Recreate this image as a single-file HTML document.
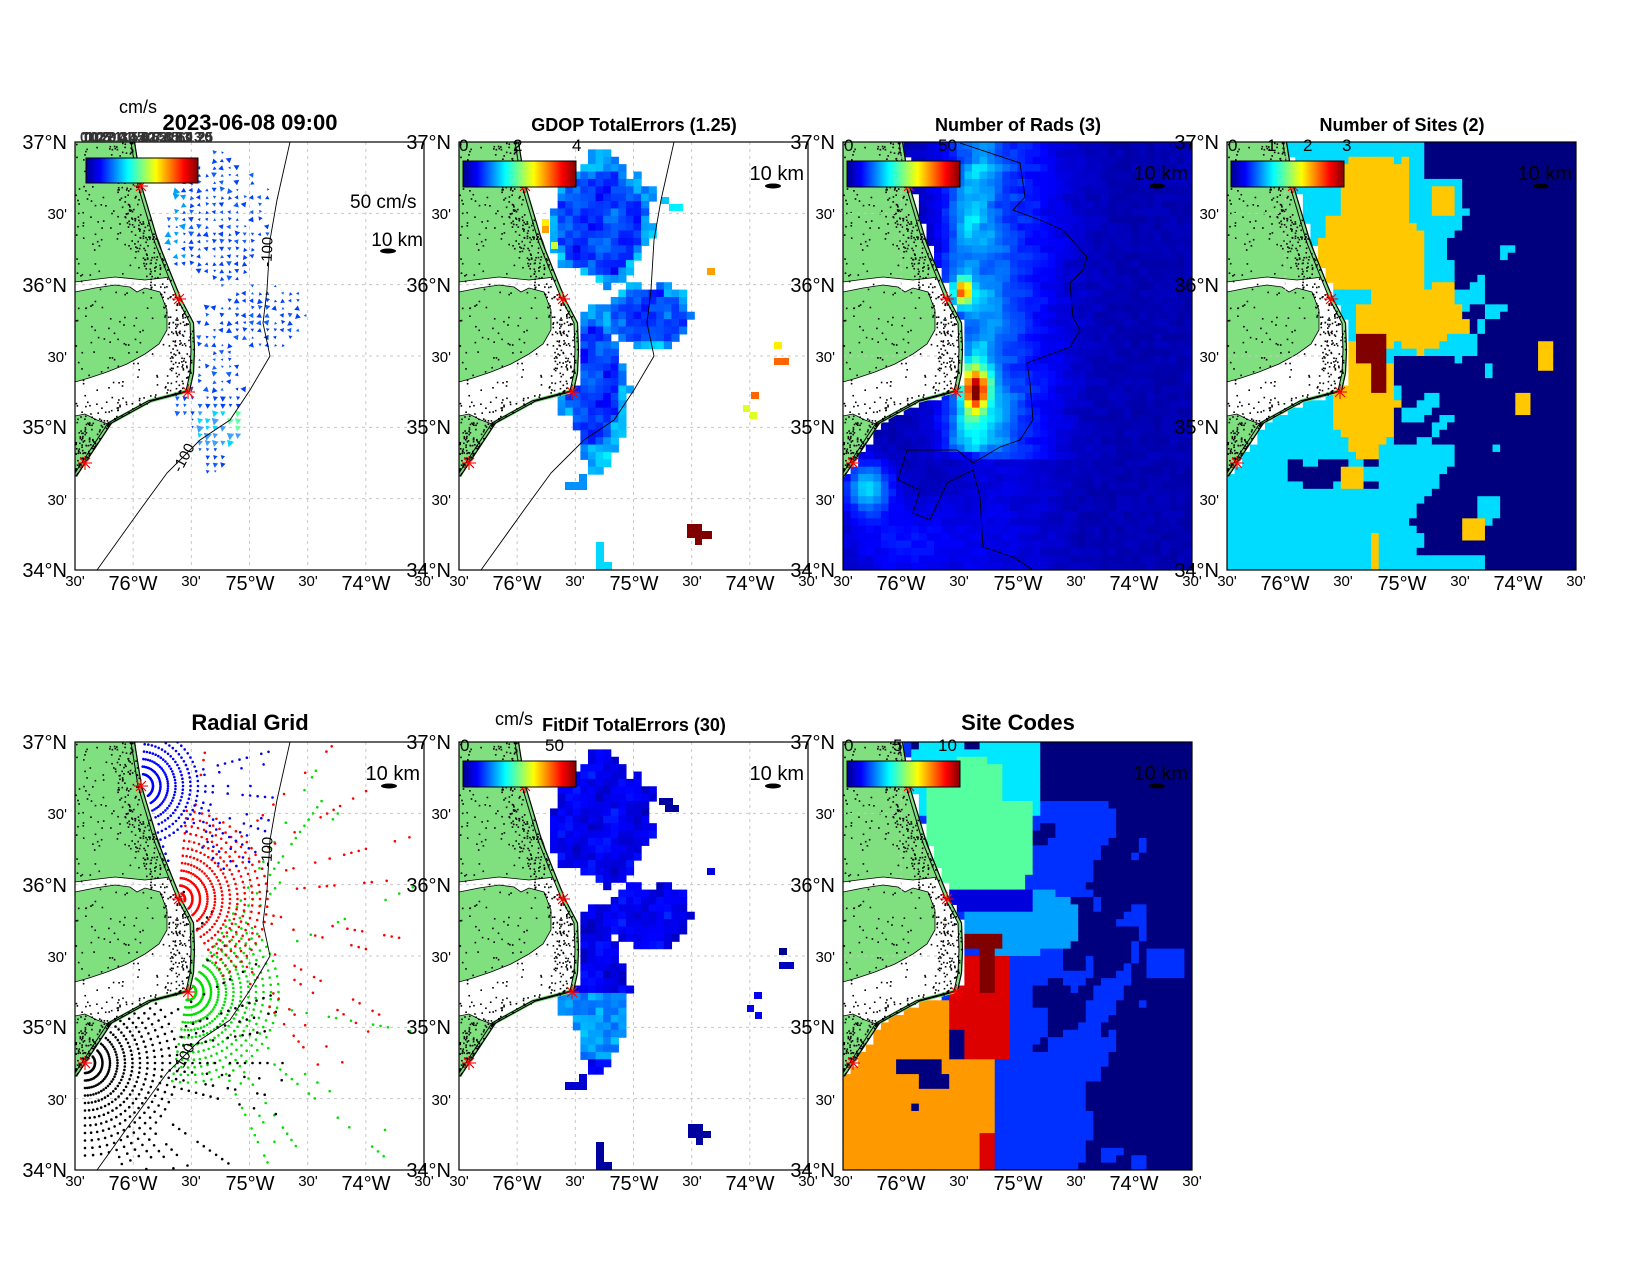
<!DOCTYPE html>
<html><head><meta charset="utf-8">
<style>
html,body{margin:0;padding:0;background:#fff;}
svg{display:block;font-family:"Liberation Sans",Arial,sans-serif;}
.t{font-weight:bold;text-anchor:middle;}
.yl{font-size:20px;text-anchor:end;}
.ym{font-size:15px;text-anchor:end;}
.xl{font-size:20px;text-anchor:middle;}
.xm{font-size:15px;text-anchor:middle;}
.cb{font-size:17px;}
</style></head>
<body>
<svg id="s" width="1650" height="1275" viewBox="0 0 1650 1275" xmlns="http://www.w3.org/2000/svg">
<defs>
<linearGradient id="jet" x1="0" x2="1" y1="0" y2="0">
<stop offset="0" stop-color="#00008f"/><stop offset="0.125" stop-color="#0000ff"/><stop offset="0.375" stop-color="#00ffff"/><stop offset="0.625" stop-color="#ffff00"/><stop offset="0.875" stop-color="#ff0000"/><stop offset="1" stop-color="#800000"/>
</linearGradient>
</defs>
<g id="panels"></g>

<text class="t" x="250" y="130" font-size="22">2023-06-08 09:00</text>
<text class="t" x="634" y="131" font-size="18">GDOP TotalErrors (1.25)</text>
<text class="t" x="1018" y="131" font-size="18">Number of Rads (3)</text>
<text class="t" x="1402" y="131" font-size="18">Number of Sites (2)</text>
<text class="t" x="250" y="730" font-size="22">Radial Grid</text>
<text class="t" x="634" y="731" font-size="18">FitDif TotalErrors (30)</text>
<text class="t" x="1018" y="730" font-size="22">Site Codes</text>

<text x="119" y="113" font-size="18">cm/s</text>
<g fill="#333" font-size="15" font-weight="bold">
<text x="80" y="142" textLength="133" lengthAdjust="spacingAndGlyphs">0 0.5 1 1.5 2 2.5 3 3.5</text>
<text x="82" y="142" textLength="130" lengthAdjust="spacingAndGlyphs">10 20 30 40 50 60 70</text>
<text x="84" y="142" textLength="129" lengthAdjust="spacingAndGlyphs">0 0.2 0.4 0.6 0.8 1.25</text>
<text x="86" y="142" textLength="127" lengthAdjust="spacingAndGlyphs">1 2 3 4 5 6 7 8 9 1.25</text>
</g>
<text x="350" y="208" font-size="19">50 cm/s</text>
<text x="423" y="246" font-size="19" text-anchor="end">10 km</text>

<g transform="translate(75,142)">
<text class="yl" x="-8" y="7">37°N</text><text class="ym" x="-8" y="77">30'</text><text class="yl" x="-8" y="150">36°N</text><text class="ym" x="-8" y="220">30'</text><text class="yl" x="-8" y="292">35°N</text><text class="ym" x="-8" y="363">30'</text><text class="yl" x="-8" y="435">34°N</text>
<text class="xm" x="0" y="444">30'</text><text class="xl" x="58" y="448">76°W</text><text class="xm" x="116" y="444">30'</text><text class="xl" x="175" y="448">75°W</text><text class="xm" x="233" y="444">30'</text><text class="xl" x="291" y="448">74°W</text><text class="xm" x="349" y="444">30'</text>
</g>
<g transform="translate(459,142)">
<text class="yl" x="-8" y="7">37°N</text><text class="ym" x="-8" y="77">30'</text><text class="yl" x="-8" y="150">36°N</text><text class="ym" x="-8" y="220">30'</text><text class="yl" x="-8" y="292">35°N</text><text class="ym" x="-8" y="363">30'</text><text class="yl" x="-8" y="435">34°N</text>
<text class="xm" x="0" y="444">30'</text><text class="xl" x="58" y="448">76°W</text><text class="xm" x="116" y="444">30'</text><text class="xl" x="175" y="448">75°W</text><text class="xm" x="233" y="444">30'</text><text class="xl" x="291" y="448">74°W</text><text class="xm" x="349" y="444">30'</text>
<text class="cb" x="0" y="9">0</text><text class="cb" x="54" y="9">2</text><text class="cb" x="113" y="9">4</text>
<text x="345" y="38" font-size="20" text-anchor="end">10 km</text>
</g>
<g transform="translate(843,142)">
<text class="yl" x="-8" y="7">37°N</text><text class="ym" x="-8" y="77">30'</text><text class="yl" x="-8" y="150">36°N</text><text class="ym" x="-8" y="220">30'</text><text class="yl" x="-8" y="292">35°N</text><text class="ym" x="-8" y="363">30'</text><text class="yl" x="-8" y="435">34°N</text>
<text class="xm" x="0" y="444">30'</text><text class="xl" x="58" y="448">76°W</text><text class="xm" x="116" y="444">30'</text><text class="xl" x="175" y="448">75°W</text><text class="xm" x="233" y="444">30'</text><text class="xl" x="291" y="448">74°W</text><text class="xm" x="349" y="444">30'</text>
<text class="cb" x="1" y="9">0</text><text class="cb" x="95" y="9">50</text>
<text x="345" y="38" font-size="20" text-anchor="end">10 km</text>
</g>
<g transform="translate(1227,142)">
<text class="yl" x="-8" y="7">37°N</text><text class="ym" x="-8" y="77">30'</text><text class="yl" x="-8" y="150">36°N</text><text class="ym" x="-8" y="220">30'</text><text class="yl" x="-8" y="292">35°N</text><text class="ym" x="-8" y="363">30'</text><text class="yl" x="-8" y="435">34°N</text>
<text class="xm" x="0" y="444">30'</text><text class="xl" x="58" y="448">76°W</text><text class="xm" x="116" y="444">30'</text><text class="xl" x="175" y="448">75°W</text><text class="xm" x="233" y="444">30'</text><text class="xl" x="291" y="448">74°W</text><text class="xm" x="349" y="444">30'</text>
<text class="cb" x="1" y="9">0</text><text class="cb" x="40" y="9">1</text><text class="cb" x="76" y="9">2</text><text class="cb" x="115" y="9">3</text>
<text x="345" y="38" font-size="20" text-anchor="end">10 km</text>
</g>
<g transform="translate(75,742)">
<text class="yl" x="-8" y="7">37°N</text><text class="ym" x="-8" y="77">30'</text><text class="yl" x="-8" y="150">36°N</text><text class="ym" x="-8" y="220">30'</text><text class="yl" x="-8" y="292">35°N</text><text class="ym" x="-8" y="363">30'</text><text class="yl" x="-8" y="435">34°N</text>
<text class="xm" x="0" y="444">30'</text><text class="xl" x="58" y="448">76°W</text><text class="xm" x="116" y="444">30'</text><text class="xl" x="175" y="448">75°W</text><text class="xm" x="233" y="444">30'</text><text class="xl" x="291" y="448">74°W</text><text class="xm" x="349" y="444">30'</text>
<text x="345" y="38" font-size="20" text-anchor="end">10 km</text>
</g>
<g transform="translate(459,742)">
<text class="yl" x="-8" y="7">37°N</text><text class="ym" x="-8" y="77">30'</text><text class="yl" x="-8" y="150">36°N</text><text class="ym" x="-8" y="220">30'</text><text class="yl" x="-8" y="292">35°N</text><text class="ym" x="-8" y="363">30'</text><text class="yl" x="-8" y="435">34°N</text>
<text class="xm" x="0" y="444">30'</text><text class="xl" x="58" y="448">76°W</text><text class="xm" x="116" y="444">30'</text><text class="xl" x="175" y="448">75°W</text><text class="xm" x="233" y="444">30'</text><text class="xl" x="291" y="448">74°W</text><text class="xm" x="349" y="444">30'</text>
<text class="cb" x="1" y="9">0</text><text class="cb" x="86" y="9">50</text>
<text x="36" y="-17" font-size="18">cm/s</text>
<text x="345" y="38" font-size="20" text-anchor="end">10 km</text>
</g>
<g transform="translate(843,742)">
<text class="yl" x="-8" y="7">37°N</text><text class="ym" x="-8" y="77">30'</text><text class="yl" x="-8" y="150">36°N</text><text class="ym" x="-8" y="220">30'</text><text class="yl" x="-8" y="292">35°N</text><text class="ym" x="-8" y="363">30'</text><text class="yl" x="-8" y="435">34°N</text>
<text class="xm" x="0" y="444">30'</text><text class="xl" x="58" y="448">76°W</text><text class="xm" x="116" y="444">30'</text><text class="xl" x="175" y="448">75°W</text><text class="xm" x="233" y="444">30'</text><text class="xl" x="291" y="448">74°W</text><text class="xm" x="349" y="444">30'</text>
<text class="cb" x="1" y="9">0</text><text class="cb" x="50" y="9">5</text><text class="cb" x="95" y="9">10</text>
<text x="345" y="38" font-size="20" text-anchor="end">10 km</text>
</g>
<g font-size="15">
<text transform="translate(272,252) rotate(-88)" text-anchor="middle">-100</text>
<text transform="translate(188,460) rotate(-62)" text-anchor="middle">-100</text>
<text transform="translate(272,852) rotate(-88)" text-anchor="middle">-100</text>
<text transform="translate(188,1060) rotate(-62)" text-anchor="middle">-100</text>
</g>
</svg>
<script>
(function(){
var W=349,H=428,cw=W/46,ch=H/58;
var P=[[75,142],[459,142],[843,142],[1227,142],[75,742],[459,742],[843,742]];
var coast=[[58,0],[65,44],[82,101],[98,141],[105,158],[117,181],[118,208],[117,231],[113,249],[75,259],[35,281],[0,334]];
function xc(y){if(y>=334)return -10;for(var i=0;i<coast.length-1;i++){var a=coast[i],b=coast[i+1];if(y>=a[1]&&y<=b[1]){var t=(y-a[1])/(b[1]-a[1]);return a[0]+t*(b[0]-a[0]);}}return -10;}
function ocean(x,y){return x>xc(y)+4;}
function hash(i,j){var s=Math.sin(i*127.1+j*311.7)*43758.5453;return s-Math.floor(s);}
function sn(x,y){return 0.5*Math.sin(x*0.045+y*0.02+1)+0.35*Math.sin(y*0.06-x*0.03+2)+0.3*Math.sin(x*0.11+y*0.09);}
function cl(v){return Math.max(0,Math.min(1,v));}
function jet(v){v=cl(v);var r=cl(1.5-Math.abs(4*v-3)),g=cl(1.5-Math.abs(4*v-2)),b=cl(1.5-Math.abs(4*v-1));return 'rgb('+Math.round(r*255)+','+Math.round(g*255)+','+Math.round(b*255)+')';}
function G(x,y,cx,cy,sx,sy){var dx=(x-cx)/sx,dy=(y-cy)/sy;return Math.exp(-(dx*dx+dy*dy));}
function ell(x,y,cx,cy,rx,ry){var dx=(x-cx)/rx,dy=(y-cy)/ry;return Math.sqrt(dx*dx+dy*dy);}
function cov(x,y){if(!ocean(x,y))return false;var d=Math.min(ell(x,y,141,80,50,62),ell(x,y,188,175,44,32),ell(x,y,135,245,31,72));return d<1+0.22*sn(x*2,y*2);}
var LN=[[0,0],[60,0],[63,40],[72,70],[84,100],[92,125],[96,135],[70,138],[40,135],[15,138],[0,140]];
var LM=[[0,150],[20,146],[40,143],[55,145],[62,150],[70,146],[85,150],[92,168],[92,188],[84,202],[70,212],[52,222],[32,230],[14,236],[0,240]];
var LS=[[0,274],[10,272],[22,278],[33,282],[0,333]];
function pts(a){return a.map(function(p){return p[0].toFixed(1)+','+p[1].toFixed(1);}).join(' ');}
function cells(fn){var s='';for(var i=0;i<46;i++)for(var j=0;j<58;j++){var x=(i+0.5)*cw,y=(j+0.5)*ch;var c=fn(x,y,i,j);if(c)s+='<rect x="'+(i*cw).toFixed(2)+'" y="'+(j*ch).toFixed(2)+'" width="'+(cw+0.6).toFixed(2)+'" height="'+(ch+0.6).toFixed(2)+'" fill="'+c+'"/>';}return s;}
function grid(){var s='<g stroke="#c8c8c8" stroke-width="1" stroke-dasharray="3,4">';for(var k=1;k<6;k++){s+='<line x1="'+(k*W/6)+'" y1="0" x2="'+(k*W/6)+'" y2="'+H+'"/>';s+='<line x1="0" y1="'+(k*H/6)+'" x2="'+W+'" y2="'+(k*H/6)+'"/>';}return s+'</g>';}
var rnd=(function(){var a=12345;return function(){a|=0;a=a+0x6D2B79F5|0;var t=Math.imul(a^a>>>15,1|a);t=t+Math.imul(t^t>>>7,61|t)^t;return((t^t>>>14)>>>0)/4294967296;};})();
var landDots=(function(){var s='';for(var n=0;n<700;n++){var y=rnd()*340,xmax=xc(y);if(xmax<0)continue;var x;if(rnd()<0.6){x=xmax-rnd()*25;}else{x=rnd()*xmax;}if(x<0)continue;s+='<rect x="'+x.toFixed(1)+'" y="'+y.toFixed(1)+'" width="1.6" height="1.6"/>';}return s;})();
function land(){var s='<g fill="#80e080" stroke="#000" stroke-width="0.8">';s+='<polygon points="'+pts(LN)+'"/><polygon points="'+pts(LM)+'"/><polygon points="'+pts(LS)+'"/></g>';
s+='<polyline points="'+pts(coast)+'" fill="none" stroke="#80e080" stroke-width="4"/>';
s+='<polyline points="'+pts(coast.map(function(p){return [p[0]-2,p[1]];}))+'" fill="none" stroke="#000" stroke-width="1"/>';
s+='<polyline points="'+pts(coast.map(function(p){return [p[0]+1.5,p[1]];}))+'" fill="none" stroke="#000" stroke-width="1.2"/>';
s+='<g fill="#000">'+landDots+'</g>';return s;}
var depth=[[215,0],[202,58],[195,98],[192,148],[188,181],[195,214],[175,248],[155,278],[125,298],[92,331],[65,368],[22,428]];
function contour(){return '<polyline points="'+pts(depth)+'" fill="none" stroke="#000" stroke-width="0.9"/>';}
function star(x,y){var s='<g stroke="#f00" stroke-width="1.1">';for(var k=0;k<4;k++){var a=k*Math.PI/4;s+='<line x1="'+(x-7*Math.cos(a))+'" y1="'+(y-7*Math.sin(a))+'" x2="'+(x+7*Math.cos(a))+'" y2="'+(y+7*Math.sin(a))+'"/>';}return s+'</g>';}
var S=[[66,44],[104,157],[113,250],[10,321]];
function stars(){return S.map(function(p){return star(p[0],p[1]);}).join('');}
function colorbar(x,y,w,h){return '<rect x="'+x+'" y="'+y+'" width="'+w+'" height="'+h+'" fill="url(#jet)" stroke="#000" stroke-width="1"/>';}
function scalebar(x,y){return '<ellipse cx="'+x+'" cy="'+y+'" rx="8" ry="2.5" fill="#000"/>';}

function p1(){var s='';for(var i=0;i<46;i++)for(var j=0;j<58;j++){var x=(i+0.5)*cw,y=(j+0.5)*ch;if(!cov(x,y))continue;if(hash(i,j)<0.15)continue;var sz=2.2+hash(j,i)*3.2;var col='#0040ff';if(hash(i+3,j)<0.3)col='#1060ff';if(x>118&&x<165&&y>262&&y<300){col=(hash(i,j+5)<0.5?'#00d8ff':'#40a0ff');sz+=2;}if(x>150&&x<165&&y>265&&y<285)col='#60ffa0';if(y<120&&x<115&&hash(i,j+1)<0.4){col='#00a0ff';sz+=1.5;}var a=Math.PI*(0.7+0.6*hash(i+7,j+2));if(y>250)a=Math.PI*0.5+0.3*hash(i,j);var c=Math.cos(a),d=Math.sin(a);var tx=x+c*sz,ty=y+d*sz;var px=-d*sz*0.55,py=c*sz*0.55;s+='<polygon points="'+tx.toFixed(1)+','+ty.toFixed(1)+' '+(x+px).toFixed(1)+','+(y+py).toFixed(1)+' '+(x-px).toFixed(1)+','+(y-py).toFixed(1)+'" fill="'+col+'"/>';}return s;}
function iso(list){var s='';list.forEach(function(r){s+='<rect x="'+r[0]+'" y="'+r[1]+'" width="'+r[2]+'" height="'+r[3]+'" fill="'+r[4]+'"/>';});return s;}
function p2(){return cells(function(x,y,i,j){if(!cov(x,y))return null;var v=0.16+0.06*sn(x*3,y*3)+0.05*hash(i,j);if(Math.min(ell(x,y,141,80,50,62),ell(x,y,188,175,44,32),ell(x,y,135,245,31,72))>0.85)v+=0.1;return jet(v);})+iso([[202,55,8,7,'#00c8ff'],[210,62,14,7,'#00f0ff'],[248,126,8,7,'#ffa000'],[315,200,8,7,'#ffee00'],[315,216,15,7,'#ff6600'],[292,250,8,7,'#ff6600'],[284,263,7,7,'#e0ff20'],[291,270,7,7,'#e0ff20'],[106,340,22,8,'#0090ff'],[120,332,8,8,'#0090ff'],[228,382,15,14,'#800000'],[243,389,10,8,'#800000'],[236,396,7,7,'#800000'],[137,400,8,28,'#00d8ff'],[145,420,8,8,'#00d8ff'],[83,77,7,7,'#ffee00'],[83,84,7,7,'#ffa000'],[92,100,7,7,'#d0ff30']]);}
function p3(){return cells(function(x,y,i,j){if(!ocean(x,y))return null;var v=0.035+0.03*hash(i,j);var mid=Math.exp(-Math.pow((x-160)/60,2))*(y<320?1:0.35);v+=0.12*mid*(0.8+0.4*hash(i+1,j));v+=0.2*Math.exp(-Math.pow((x-130)/28,2))*(y<310?1:0)*(0.75+0.35*sn(x*2,y*1.5))*(y<20?0.6:1);v+=0.55*G(x,y,120,150,9,13);v+=0.7*G(x,y,132,248,12,20);v+=0.1*G(x,y,150,270,25,30);v+=0.28*G(x,y,25,345,22,25);v+=0.09*G(x,y,60,400,60,40);return jet(v);})+'<polyline points="'+pts([[117,1],[177,21],[182,55],[170,68],[197,78],[220,88],[244,115],[240,128],[227,141],[230,175],[237,188],[227,205],[184,221],[187,241],[190,278],[177,298],[157,305],[130,321],[114,308],[64,308],[55,338],[77,348],[70,371],[87,378],[104,341],[130,328],[137,355],[140,405],[170,415],[190,428]])+'" fill="none" stroke="#000" stroke-width="0.9"/>';}
function p4(){var NAVY='#00007f',CY='#00dcff',YE='#ffc800',DR='#800000';return cells(function(x,y,i,j){if(!ocean(x,y))return null;
if((x>126&&x<163&&y>195&&y<218)||(x>141&&x<163&&y>218&&y<248))return DR;
if((x>111&&x<179&&y>15&&y<78&&ell(x,y,145,50,38,40)<1.05+0.2*sn(x*3,y*3))||(x>88&&x<194&&y>70&&y<148&&ell(x,y,140,108,58,42)<1.05+0.2*sn(x*3,y*2)))return YE;
if(ell(x,y,185,175,55,36)<1+0.18*sn(x*3,y*3)&&y>140)return YE;
if(ell(x,y,137,250,30,70)<1+0.15*sn(x*2,y*3)&&y>175&&y<318)return YE;
if((x>310&&x<330&&y>200&&y<232)||(x>285&&x<300&&y>248&&y<272)||(x>112&&x<133&&y>325&&y<348)||(x>233&&x<255&&y>378&&y<400)||(x>141&&x<155&&y>393)||(x>202&&x<225&&y>47&&y<72))return YE;
var bi=Math.floor(i/2),bj=Math.floor(j/2);
var s=(x-215)/70+0.6*sn(x*1.5,y*1.5)+0.35*(hash(bi,bj)-0.5);
if(y<40&&x>200)return NAVY;
if(x>150&&x<260&&y>215&&y<300)s+=0.8;
if(x>60&&x<150&&y>318&&y<345&&hash(bi,bj)<0.7)return NAVY;
if(x>150&&x<250&&y>335&&y<410)s+=0.7;
if(x>320)s+=0.6;
if(x<60&&y>300)s-=1;
return s>0.35?NAVY:CY;});}
function p5(){var s='';function site(sx,sy,col,r0,r1,a0,a1,keep,p,rad){for(var r=r0;r<=r1;r+=7.5){for(var a=a0;a<=a1;a+=5){var t=a*Math.PI/180;var x=sx+r*Math.cos(t),y=sy+r*Math.sin(t);if(x<0||x>W||y<0||y>H)continue;if(!ocean(x,y))continue;if(r>keep){var spoke=hash(Math.round(a),sx)<rad;if(!spoke||rnd()>p)continue;}s+='<circle cx="'+x.toFixed(1)+'" cy="'+y.toFixed(1)+'" r="1.3" fill="'+col+'"/>';}}}
site(113,250,'#00e000',8,260,-60,100,95,0.45,0.35);
site(10,321,'#000',10,200,-70,90,95,0.7,0.6);
site(104,157,'#ff0000',6,245,-85,60,95,0.45,0.3);
site(66,44,'#0000ff',12,135,-85,75,60,0.6,0.6);
return s;}
function p6(){return cells(function(x,y,i,j){if(!cov(x,y))return null;var v=0.09+0.04*sn(x*3,y*3)+0.04*hash(i,j);if(y>250&&y<315)v=0.22+0.1*hash(i,j);if(x<125&&y>205&&y<225)v=0.38;return jet(v);})+iso([[248,126,8,7,'#0000e0'],[320,206,8,7,'#00008f'],[320,220,15,7,'#0000c0'],[295,250,8,7,'#0000ee'],[288,263,7,7,'#0000ee'],[296,270,7,7,'#0000ee'],[106,340,22,8,'#0000d0'],[120,332,8,8,'#0000d0'],[229,382,15,14,'#0000a0'],[244,389,8,7,'#0000a0'],[237,396,7,7,'#0000a0'],[137,400,8,28,'#0000a0'],[145,420,8,8,'#0000a0'],[200,56,14,7,'#0000a0'],[206,63,14,7,'#0000a0']]);}
function p7(){var NAVY='#00007f',BL='#0030ff',B2='#0000dd',LB='#00a0ff',CY='#00e8ff',MI='#55ffa0',DR='#800000',RD='#dd0000',OR='#ff9900';return cells(function(x,y,i,j){if(!ocean(x,y))return null;var bi=Math.floor(i/3),bj=Math.floor(j/3);var n=sn(x*1.3,y*1.3)+0.5*(hash(bi,bj)-0.5);
if((x>122&&x<160&&y>193&&y<210)||(x>133&&x<152&&y>210&&y<248))return DR;
if(x>84&&x<190&&y>15&&y<145&&ell(x,y,140,85,62,68)<1.05+0.12*n&&!(y<60&&x>160))return MI;
if(x>69&&x<197&&y<72)return (y<5&&(x<75||x>120&&x<135))?NAVY:CY;
if(x>107&&x<190&&y>145&&y<171)return B2;
if(x>107&&x<167&&y>215&&y<318)return (y>290&&x<120)?NAVY:RD;
if(x>137&&x<152&&y>391)return RD;
if(x>122&&x<237&&y>145&&y<211&&ell(x,y,178,178,58,35)<1.05+0.12*n)return LB;
if(x<152&&y>255){if((x>55&&x<100&&y>318&&y<330)||(x>75&&x<108&&y>330&&y<345)||(x>70&&x<78&&y>360&&y<368))return NAVY;return OR;}
if(y<60&&x>195)return NAVY;
if(x>300)return (y>210&&y<235&&x<340)?BL:NAVY;
var s=n+(x-250)/110;if(x>190&&x<300&&y>60&&y<140)s-=0.3;if(x>150&&x<240&&y>310)s-=0.6;
return s<-0.1?BL:NAVY;});}

var fns=[p1,p2,p3,p4,p5,p6,p7];
var out='';
for(var k=0;k<7;k++){var o=P[k];out+='<g transform="translate('+o[0]+','+o[1]+')"><clipPath id="c'+k+'"><rect x="0" y="0" width="'+W+'" height="'+H+'"/></clipPath><g clip-path="url(#c'+k+')">';
var under=(k==0||k==1||k==4||k==5);
if(under)out+=grid();
out+=fns[k]();
out+=land();
if(k==0||k==1||k==4)out+=contour();
if(!under)out+='<g stroke="#c8c8c8" stroke-width="1" stroke-dasharray="3,4"><line x1="'+(W/6)+'" y1="0" x2="'+(W/6)+'" y2="150"/><line x1="0" y1="'+(H/6)+'" x2="60" y2="'+(H/6)+'"/><line x1="0" y1="'+(3*H/6)+'" x2="100" y2="'+(3*H/6)+'"/></g>';
out+=stars();
out+='</g><rect x="0" y="0" width="'+W+'" height="'+H+'" fill="none" stroke="#000" stroke-width="1.2"/>';
if(k==0)out+=colorbar(11,16,112,25);
else if(k!=4)out+=colorbar(4,19,113,26);
if(k==0)out+=scalebar(313,109);else out+=scalebar(314,44);
out+='</g>';}
document.getElementById('panels').innerHTML=out;
})();
</script>
</body></html>
